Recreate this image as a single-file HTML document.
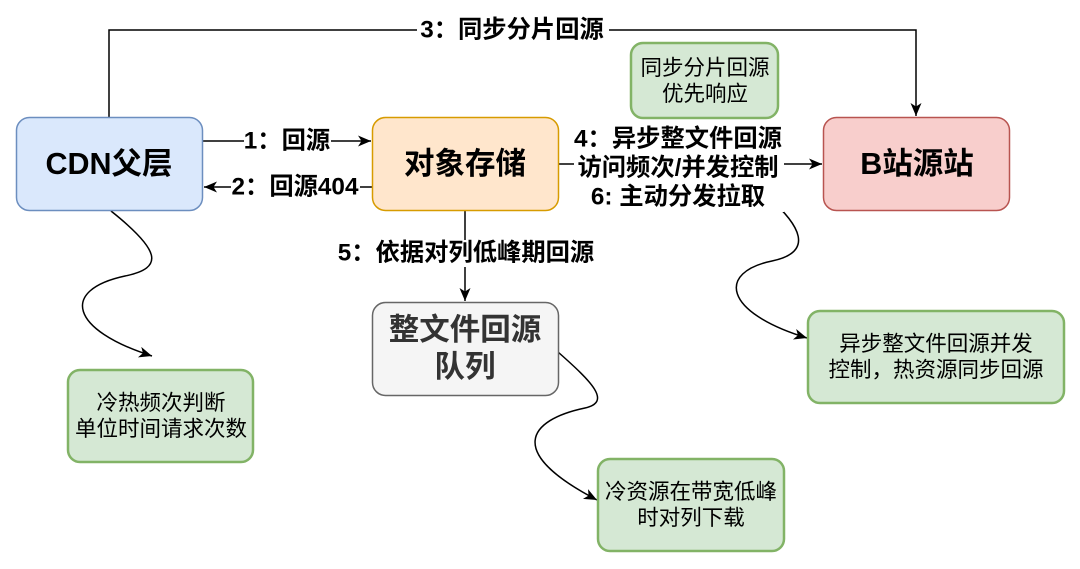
<!DOCTYPE html>
<html><head><meta charset="utf-8"><style>
html,body{margin:0;padding:0;background:#fff;}
svg{display:block;}
text{font-family:"Liberation Sans","Noto Sans CJK SC",sans-serif;}
.b{font-weight:bold;}
</style></head><body>
<svg width="1080" height="569" viewBox="0 0 1080 569" xmlns="http://www.w3.org/2000/svg">
<defs>
<marker id="a" markerWidth="15" markerHeight="13" refX="13" refY="6.5" orient="auto" markerUnits="userSpaceOnUse">
<path d="M0,1 L13,6.5 L0,12 L3.5,6.5 Z" fill="#000"/>
</marker>
</defs>

<!-- connectors -->
<g fill="none" stroke="#000" stroke-width="1.5">
<path d="M109,117 L109,30 L916,30 L916,116" marker-end="url(#a)"/>
<path d="M203,141 L371,141" marker-end="url(#a)"/>
<path d="M372,187 L204,187" marker-end="url(#a)"/>
<path d="M558,164 L822,164" marker-end="url(#a)"/>
<path d="M465,210 L465,301" marker-end="url(#a)"/>
<path d="M111,211 C160,250 165,268 125,276 C60,290 70,330 152,356" marker-end="url(#a)"/>
<path d="M768,197 C800,225 815,252 772,261 C718,272 722,312 807,338" marker-end="url(#a)"/>
<path d="M558,352 C592,382 612,402 585,408 C528,420 505,452 597,500" marker-end="url(#a)"/>
</g>

<!-- boxes -->
<rect x="16.5" y="117.5" width="186" height="93" rx="13" fill="#dae8fc" stroke="#6c8ebf" stroke-width="1.5"/>
<rect x="372.5" y="117.5" width="186" height="93" rx="13" fill="#ffe6cc" stroke="#d79b00" stroke-width="1.5"/>
<rect x="823.5" y="117.5" width="186" height="93" rx="13" fill="#f8cecc" stroke="#b85450" stroke-width="1.5"/>
<rect x="372.5" y="302.5" width="186" height="93" rx="13" fill="#f5f5f5" stroke="#666666" stroke-width="1.5"/>

<rect x="631" y="43" width="147" height="75" rx="12" fill="#d5e8d4" stroke="#82b366" stroke-width="2.5"/>
<rect x="68" y="370" width="185" height="92" rx="12" fill="#d5e8d4" stroke="#82b366" stroke-width="2.5"/>
<rect x="808" y="311" width="256" height="92" rx="12" fill="#d5e8d4" stroke="#82b366" stroke-width="2.5"/>
<rect x="598" y="459" width="186" height="92" rx="12" fill="#d5e8d4" stroke="#82b366" stroke-width="2.5"/>

<!-- box labels -->
<g class="b" font-size="30.5" text-anchor="middle" dominant-baseline="central" fill="#000">
<text x="109" y="164">CDN父层</text>
<text x="465" y="164">对象存储</text>
<text x="917" y="164">B站源站</text>
<text x="465" y="330" fill="#333">整文件回源</text>
<text x="465" y="367" fill="#333">队列</text>
</g>

<!-- edge labels -->
<g class="b" font-size="24.3" text-anchor="middle" dominant-baseline="central" fill="#000">
<rect x="417" y="16" width="192" height="28" fill="#fff"/>
<text x="512" y="30">3：同步分片回源</text>
<rect x="244" y="128" width="87" height="26" fill="#fff"/>
<text x="287" y="141">1：回源</text>
<rect x="231" y="174" width="129" height="26" fill="#fff"/>
<text x="295" y="187">2：回源404</text>
<rect x="574" y="124" width="210" height="88" fill="#fff"/>
<text x="678" y="139">4：异步整文件回源</text>
<text x="678" y="168">访问频次/并发控制</text>
<text x="678" y="197">6: 主动分发拉取</text>
<rect x="332" y="240" width="268" height="27" fill="#fff"/>
<text x="466" y="253">5：依据对列低峰期回源</text>
</g>

<!-- note labels -->
<g font-size="21.5" text-anchor="middle" dominant-baseline="central" fill="#000">
<text x="705" y="68">同步分片回源</text>
<text x="705" y="94">优先响应</text>
<text x="161" y="403">冷热频次判断</text>
<text x="161" y="429">单位时间请求次数</text>
<text x="936" y="344">异步整文件回源并发</text>
<text x="936" y="370">控制，热资源同步回源</text>
<text x="691" y="492">冷资源在带宽低峰</text>
<text x="691" y="518">时对列下载</text>
</g>
</svg>
</body></html>
